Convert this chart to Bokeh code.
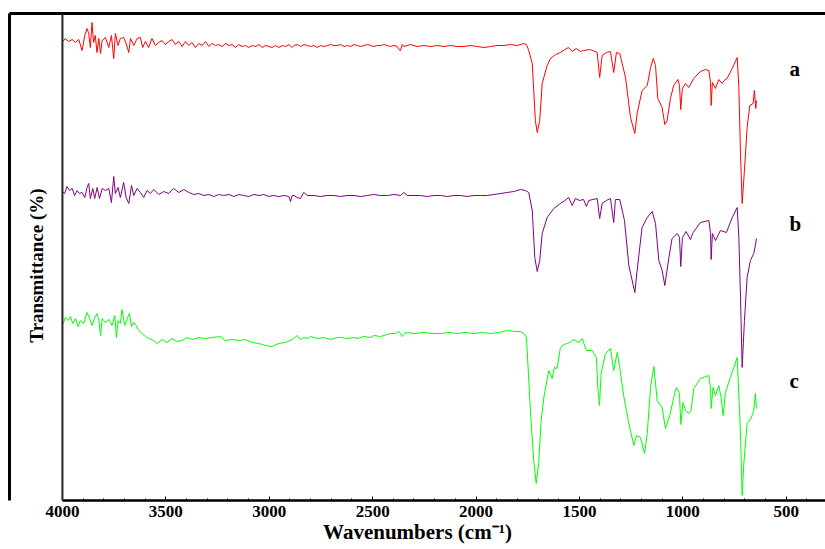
import math
from bokeh.plotting import figure
from bokeh.models import Range1d, LinearAxis, FixedTicker, Span, Label
from bokeh.embed import file_html
from bokeh.resources import INLINE

# ---------------- data (wavenumber cm-1, transmittance in arbitrary stacked units) ----------------
spectrum_a = [
    (4000, 459), (3994, 460), (3986, 462), (3970, 459), (3953, 461), (3937, 458), (3921, 461), (3905, 450),
    (3892, 465), (3881, 472), (3873, 467), (3865, 453), (3857, 478), (3849, 458), (3841, 465), (3833, 448),
    (3824, 462), (3816, 447), (3808, 460), (3792, 463), (3776, 453), (3763, 465), (3752, 442), (3744, 467),
    (3731, 455), (3720, 462), (3704, 463), (3692, 457), (3679, 448), (3671, 462), (3655, 455), (3639, 462),
    (3623, 463), (3612, 453), (3599, 459), (3583, 453), (3567, 462), (3551, 455), (3534, 458), (3518, 460),
    (3502, 456), (3486, 459), (3470, 461), (3454, 456), (3438, 459), (3421, 454), (3405, 459), (3389, 455),
    (3373, 458), (3357, 453), (3340, 457), (3324, 455), (3308, 459), (3292, 454), (3276, 457), (3260, 455),
    (3244, 456), (3227, 454), (3211, 457), (3195, 455), (3179, 456), (3163, 453), (3147, 456), (3131, 454),
    (3115, 455), (3099, 453), (3082, 455), (3066, 454), (3050, 456), (3034, 453), (3018, 455), (3002, 454),
    (2986, 453), (2970, 455), (2953, 453), (2937, 455), (2921, 454), (2905, 456), (2889, 453), (2880, 455),
    (2864, 456), (2848, 454), (2832, 456), (2816, 455), (2800, 454), (2784, 455), (2768, 453), (2751, 455),
    (2735, 454), (2719, 455), (2703, 456), (2687, 455), (2671, 455), (2655, 456), (2638, 454), (2622, 455),
    (2606, 454), (2590, 456), (2574, 455), (2558, 454), (2542, 455), (2526, 456), (2509, 455), (2493, 454),
    (2477, 455), (2461, 455), (2445, 456), (2429, 455), (2413, 454), (2397, 455), (2381, 454), (2373, 451),
    (2365, 450), (2357, 456), (2349, 454), (2333, 455), (2316, 456), (2300, 455), (2284, 454), (2252, 455),
    (2220, 454), (2188, 455), (2155, 454), (2123, 455), (2091, 454), (2059, 454), (2026, 455), (1994, 454),
    (1962, 453), (1930, 454), (1898, 455), (1865, 455), (1833, 456), (1801, 455), (1769, 457), (1756, 456),
    (1745, 450), (1728, 437), (1713, 380), (1704, 368), (1692, 380), (1680, 417), (1656, 435), (1640, 442),
    (1615, 446), (1592, 448), (1570, 451), (1553, 453), (1535, 449), (1515, 452), (1495, 449), (1480, 450),
    (1450, 451), (1425, 449), (1414, 448), (1402, 423), (1390, 445), (1370, 448), (1350, 449), (1334, 428),
    (1321, 448), (1305, 447), (1277, 423), (1253, 383), (1232, 367), (1221, 387), (1197, 410), (1172, 415),
    (1156, 433), (1143, 442), (1132, 435), (1121, 402), (1100, 393), (1087, 376), (1076, 380), (1060, 402),
    (1044, 415), (1024, 421), (1016, 415), (1010, 391), (1002, 412), (987, 417), (971, 413), (947, 422),
    (915, 429), (890, 431), (874, 430), (866, 418), (863, 395), (857, 418), (842, 412), (826, 421),
    (810, 417), (800, 420), (786, 422), (761, 432), (737, 443), (729, 413), (721, 347), (713, 297),
    (702, 330), (689, 373), (676, 395), (660, 397), (654, 410), (647, 392), (644, 400),
]

spectrum_b = [
    (4000, 309), (3989, 307), (3978, 314), (3966, 310), (3953, 312), (3941, 305), (3929, 310), (3918, 307),
    (3905, 308), (3892, 303), (3881, 313), (3873, 317), (3865, 302), (3853, 312), (3844, 302), (3832, 313),
    (3821, 302), (3808, 312), (3792, 310), (3776, 312), (3763, 298), (3752, 324), (3744, 307), (3731, 313),
    (3720, 303), (3704, 318), (3692, 303), (3679, 297), (3666, 315), (3655, 305), (3639, 312), (3623, 308),
    (3607, 303), (3591, 310), (3575, 307), (3558, 311), (3534, 306), (3510, 309), (3486, 307), (3462, 312),
    (3437, 308), (3413, 311), (3389, 308), (3365, 306), (3341, 307), (3316, 305), (3292, 306), (3268, 304),
    (3244, 306), (3220, 305), (3195, 306), (3171, 304), (3147, 306), (3123, 305), (3099, 304), (3074, 306),
    (3050, 305), (3026, 306), (3002, 304), (2978, 305), (2953, 304), (2929, 305), (2905, 304), (2897, 299),
    (2889, 305), (2880, 305), (2865, 303), (2849, 302), (2833, 308), (2816, 305), (2784, 305), (2752, 304),
    (2720, 305), (2687, 305), (2655, 304), (2623, 305), (2590, 305), (2558, 304), (2526, 305), (2494, 306),
    (2461, 305), (2429, 305), (2397, 306), (2365, 305), (2349, 308), (2333, 305), (2300, 305), (2268, 305),
    (2236, 304), (2203, 305), (2171, 305), (2139, 304), (2107, 305), (2074, 305), (2042, 304), (2010, 305),
    (1978, 305), (1946, 305), (1913, 306), (1881, 307), (1849, 308), (1817, 309), (1785, 311), (1761, 310),
    (1745, 308), (1728, 290), (1716, 243), (1704, 229), (1692, 240), (1680, 267), (1656, 283), (1624, 292),
    (1592, 297), (1570, 300), (1552, 303), (1535, 295), (1519, 302), (1500, 300), (1480, 301), (1466, 294),
    (1455, 300), (1435, 301), (1414, 302), (1402, 282), (1390, 297), (1370, 300), (1350, 302), (1334, 278),
    (1326, 301), (1305, 301), (1282, 280), (1261, 235), (1232, 208), (1221, 230), (1197, 273), (1172, 283),
    (1148, 289), (1132, 277), (1116, 240), (1100, 230), (1087, 215), (1068, 242), (1052, 262), (1027, 267),
    (1016, 263), (1010, 234), (1002, 263), (984, 269), (963, 261), (950, 268), (915, 278), (874, 280),
    (866, 267), (863, 241), (857, 267), (842, 260), (818, 270), (789, 268), (761, 283), (737, 293),
    (729, 263), (721, 203), (713, 133), (702, 180), (689, 223), (673, 240), (657, 247), (649, 255), (644, 262),
]

spectrum_c = [
    (4000, 176), (3994, 178), (3986, 183), (3973, 180), (3961, 184), (3950, 177), (3937, 182), (3924, 174),
    (3913, 180), (3897, 177), (3881, 188), (3870, 183), (3857, 175), (3844, 183), (3833, 187), (3824, 180),
    (3816, 165), (3808, 182), (3792, 178), (3776, 181), (3760, 175), (3747, 185), (3739, 163), (3731, 180),
    (3720, 177), (3712, 191), (3699, 175), (3687, 182), (3676, 187), (3666, 174), (3655, 178), (3644, 175),
    (3631, 170), (3615, 167), (3599, 164), (3583, 162), (3558, 160), (3542, 157), (3518, 161), (3494, 158),
    (3470, 162), (3446, 159), (3421, 160), (3397, 163), (3373, 161), (3341, 163), (3309, 162), (3276, 163),
    (3236, 164), (3212, 160), (3180, 161), (3147, 160), (3115, 161), (3083, 158), (3051, 157), (3018, 155),
    (2986, 154), (2954, 157), (2922, 158), (2889, 161), (2881, 162), (2865, 165), (2849, 161), (2833, 163),
    (2816, 162), (2800, 164), (2768, 162), (2736, 163), (2704, 161), (2671, 163), (2655, 163), (2623, 162),
    (2590, 163), (2575, 162), (2542, 164), (2510, 163), (2494, 165), (2462, 164), (2430, 166), (2414, 167),
    (2390, 167), (2373, 169), (2365, 167), (2357, 164), (2341, 168), (2300, 167), (2252, 168), (2212, 167),
    (2172, 167), (2130, 168), (2091, 167), (2050, 168), (2010, 167), (1970, 168), (1930, 167), (1890, 168),
    (1849, 170), (1810, 169), (1785, 169), (1769, 167), (1756, 163), (1737, 90), (1721, 40), (1709, 17),
    (1697, 37), (1685, 80), (1672, 103), (1648, 130), (1632, 122), (1621, 133), (1608, 132), (1592, 153),
    (1575, 156), (1559, 157), (1540, 159), (1527, 161), (1503, 158), (1487, 162), (1466, 150), (1438, 150),
    (1418, 143), (1411, 113), (1403, 95), (1395, 127), (1374, 147), (1350, 152), (1334, 130), (1317, 148),
    (1305, 133), (1286, 105), (1261, 77), (1237, 55), (1224, 65), (1205, 63), (1185, 47), (1172, 67),
    (1156, 113), (1140, 134), (1124, 100), (1100, 93), (1084, 72), (1063, 85), (1044, 103), (1031, 113),
    (1016, 107), (1010, 76), (999, 98), (987, 90), (971, 87), (960, 90), (947, 112), (915, 122),
    (874, 125), (866, 112), (863, 92), (854, 113), (842, 105), (826, 115), (815, 103), (805, 85),
    (794, 108), (770, 123), (737, 143), (728, 100), (721, 67), (713, 5), (705, 37), (689, 77),
    (670, 82), (657, 90), (649, 107), (644, 92),
]

series_names = ["a", "b", "c"]
series_colors = ["#ff0000", "#800080", "#00ff00"]
tick_values = [4000, 3500, 3000, 2500, 2000, 1500, 1000, 500]
x_title = "Wavenumbers (cm\u207b\u00b9)"
y_title = "Transmittance (%)"

# ---------------- figure ----------------
X_START, X_END = 4256, 310
Y_START, Y_END = 0, 487
SERIF = "Liberation Serif"

p = figure(width=825, height=549, output_backend="svg", toolbar_location=None,
           x_range=Range1d(X_START, X_END), y_range=Range1d(Y_START, Y_END),
           min_border_left=9, min_border_right=0, min_border_top=13, min_border_bottom=49)
p.outline_line_color = None
p.grid.visible = False
p.background_fill_color = "white"
p.border_fill_color = "white"

for spec, col in zip([spectrum_a, spectrum_b, spectrum_c], series_colors):
    xs = [w for w, t in spec]
    ys = [t for w, t in spec]
    p.line(xs, ys, line_color=col, line_width=1)

# bottom axis
xa = p.xaxis[0]
xa.ticker = FixedTicker(ticks=tick_values, minor_ticks=list(range(400, 4001, 100)))
xa.bounds = (X_END, 4000)
xa.axis_line_color = "black"
xa.axis_line_width = 2.5
xa.major_tick_in = 4
xa.major_tick_out = 0
xa.minor_tick_in = 2
xa.minor_tick_out = 0
xa.major_label_standoff = 5
xa.major_label_text_font = SERIF
xa.major_label_text_font_style = "bold"
xa.major_label_text_font_size = "17px"
xa.major_label_text_color = "black"
xa.axis_label = x_title
xa.axis_label_standoff = 0
xa.axis_label_text_font = SERIF
xa.axis_label_text_font_style = "bold"
xa.axis_label_text_font_size = "21px"
xa.axis_label_text_color = "black"

# left outer frame line
ya = p.yaxis[0]
ya.ticker = FixedTicker(ticks=[])
ya.axis_line_color = "black"
ya.axis_line_width = 3
ya.major_tick_out = 0
ya.major_tick_in = 0
ya.minor_tick_out = 0
ya.minor_tick_in = 0
ya.major_label_standoff = 0
ya.major_label_text_font_size = "0px"

# top frame line
top = LinearAxis(ticker=FixedTicker(ticks=[]), axis_line_color="black", axis_line_width=3,
                 major_tick_out=0, major_tick_in=0, minor_tick_out=0, minor_tick_in=0,
                 major_label_standoff=0, major_label_text_font_size="0px")
p.add_layout(top, "above")

# inner y-axis line at 4000 cm-1
p.add_layout(Span(location=4000, dimension="height", line_color="#222222", line_width=2))

# y title
p.add_layout(Label(x=4126, y=235, text=y_title, angle=math.pi / 2,
                   text_align="center", text_baseline="middle",
                   text_font=SERIF, text_font_style="bold", text_font_size="19px",
                   text_color="black"))

# curve labels
for name, ypos in zip(series_names, [432, 277, 120]):
    p.add_layout(Label(x=484, y=ypos, text=name, text_align="left", text_baseline="middle",
                       text_font=SERIF, text_font_style="bold", text_font_size="21px",
                       text_color="black"))

open("out.html", "w").write(file_html(p, INLINE))
